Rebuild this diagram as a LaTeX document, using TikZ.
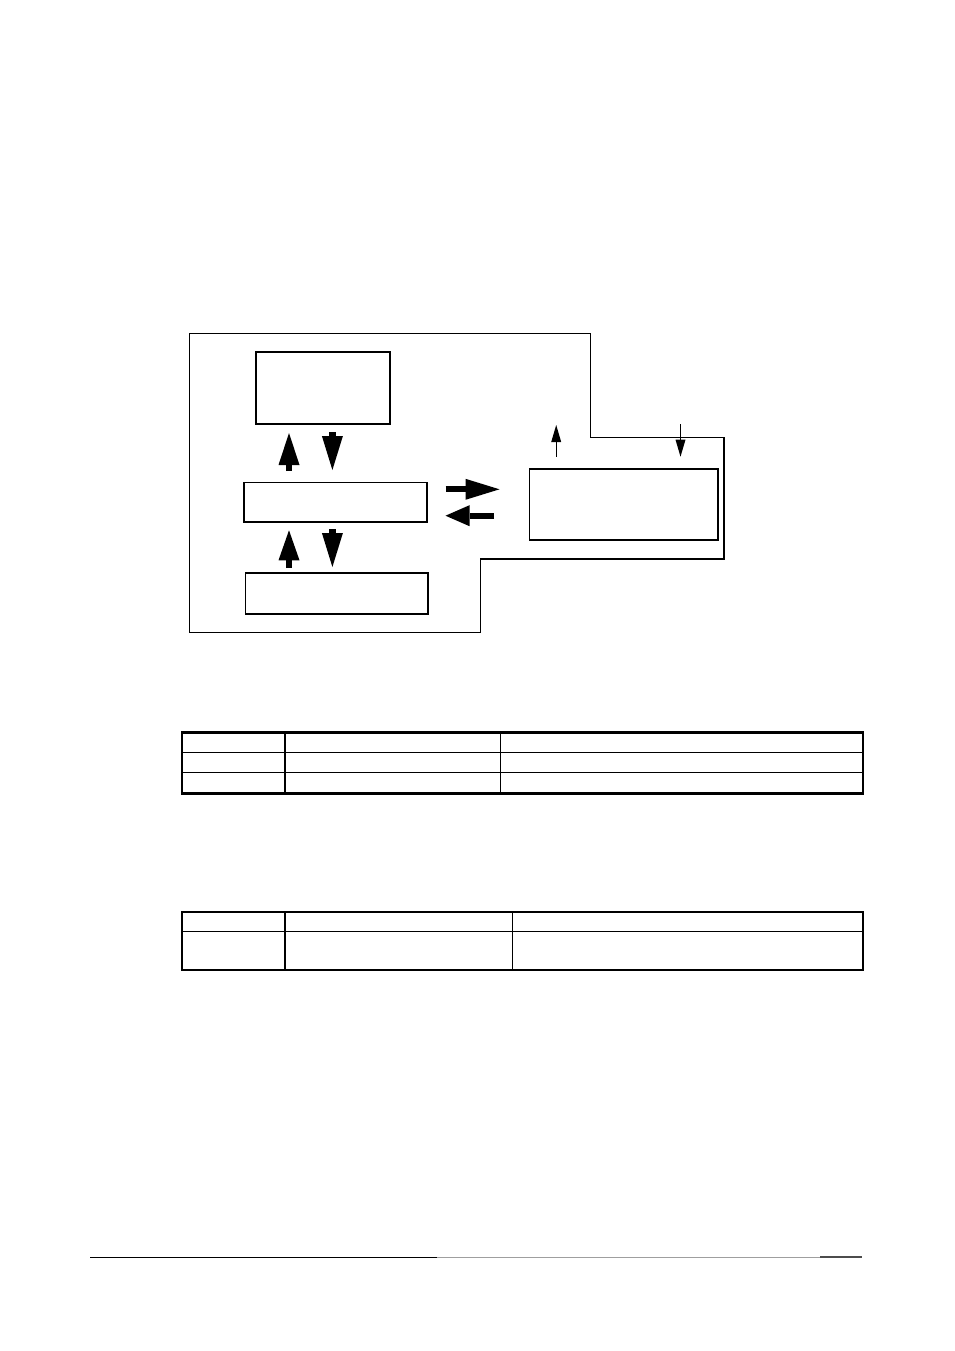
\documentclass[tikz,border=0pt]{standalone}
\usetikzlibrary{arrows.meta}
\begin{document}
\begin{tikzpicture}[x=1pt,y=-1pt,
  box/.style={draw,line width=1.3pt,inner sep=0pt,anchor=north west},
  bigup/.style={line width=6.4pt,-{Triangle[length=32pt,width=21pt,line width=0pt]}},
  thin/.style={line width=1.2pt,-{Triangle[length=17pt,width=10pt,line width=0pt]}},
  tblout/.style={line width=2.6pt},
  tblin/.style={line width=1.4pt}]
\useasboundingbox (0,0) rectangle (954,1351);
% outer region
\draw[line width=1.3pt] (189.3,333.7) -- (590.2,333.7) -- (590.2,437.3) -- (724.1,437.3)
  -- (724.1,559) -- (480.2,559) -- (480.2,632.3) -- (189.3,632.3) -- cycle;
% boxes
\node[box,minimum width=133.9pt,minimum height=72pt] (A) at (255.3,351.3) {};
\node[box,minimum width=183.1pt,minimum height=39.6pt] (B) at (243.2,481.7) {};
\node[box,minimum width=182.8pt,minimum height=41pt] (C) at (244.6,572.3) {};
\node[box,minimum width=188.2pt,minimum height=71pt] (D) at (529.1,468.3) {};
% helper coordinates
\coordinate (xl) at (289,0);
\coordinate (xr) at (332.4,0);
\coordinate (r1) at (0,489.3);
\coordinate (r2) at (0,515.7);
\coordinate (tu) at (556.2,425);
\coordinate (td) at (680.5,424);
% vertical thick arrows
\draw[bigup,shorten <=10.7pt,shorten >=8.4pt] (B.north -| xl) -- (A.south -| xl);
\draw[line width=6.4pt,-{Triangle[length=34pt,width=21pt,line width=0pt]},shorten <=7.7pt,shorten >=11.7pt] (A.south -| xr) -- (B.north -| xr);
\draw[line width=6.4pt,-{Triangle[length=30pt,width=21pt,line width=0pt]},shorten <=4.3pt,shorten >=7.7pt] (C.north -| xl) -- (B.south -| xl);
\draw[line width=6.4pt,-{Triangle[length=34pt,width=21pt,line width=0pt]},shorten <=6.7pt,shorten >=5.3pt] (B.south -| xr) -- (C.north -| xr);
% horizontal thick arrows
\draw[line width=6.2pt,-{Triangle[length=34pt,width=21pt,line width=0pt]},shorten <=18pt,shorten >=29.6pt] (B.east |- r1) -- (D.west |- r1);
\draw[line width=6.2pt,-{Triangle[length=24pt,width=21pt,line width=0pt]},shorten <=34.9pt,shorten >=17.9pt] (D.west |- r2) -- (B.east |- r2);
% thin arrows
\draw[thin,shorten <=11.6pt] (D.north -| tu) -- (tu);
\draw[thin,shorten >=11.6pt] (td) -- (D.north -| td);
% table 1
\draw[tblin] (182,752.3) -- (863,752.3);
\draw[tblin] (182,772.3) -- (863,772.3);
\draw[tblin] (284.8,732.5) -- (284.8,793.5);
\draw[tblin] (500.5,732.5) -- (500.5,793.5);
\draw[tblout] (182,732.5) rectangle (863,793.5);
% table 2
\draw[tblin] (182,931.7) -- (863,931.7);
\draw[tblin] (284.8,912) -- (284.8,970);
\draw[tblin] (512.5,912) -- (512.5,970);
\draw[tblout] (182,912) rectangle (863,970);
% footer rule
\draw[line width=1.6pt] (90,1257.3) -- (437,1257.3);
\draw[line width=1.4pt,gray!75] (437,1257.3) -- (824,1257.3);
\draw[line width=1.8pt,black!70] (820,1257.3) -- (862,1257.3);
\end{tikzpicture}
\end{document}
